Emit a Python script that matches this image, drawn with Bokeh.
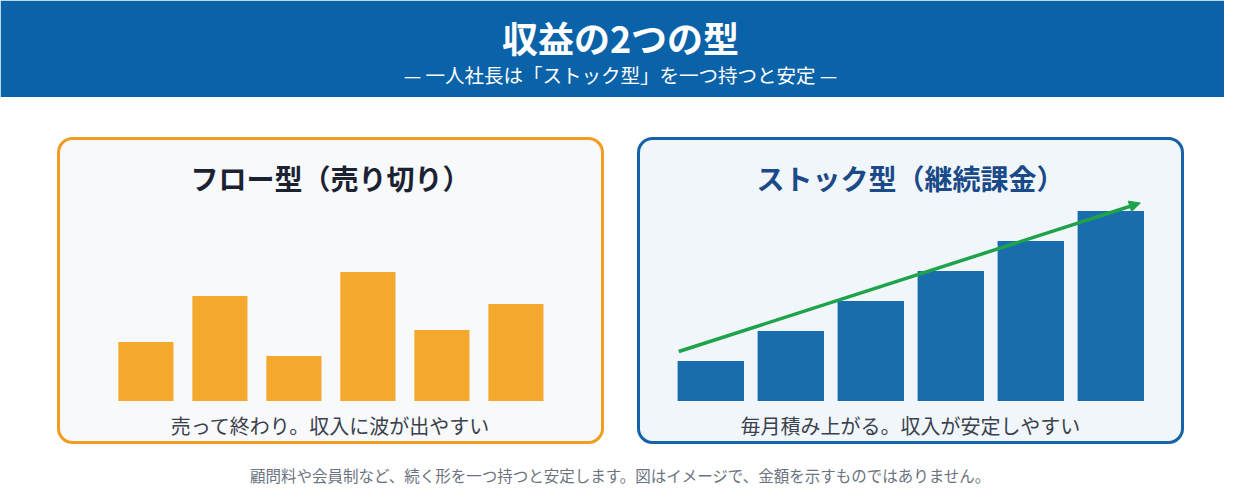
from bokeh.plotting import figure
from bokeh.models import Range1d, BoxAnnotation, Arrow, NormalHead, Label
from bokeh.embed import file_html
from bokeh.resources import INLINE

# data (image units, not real amounts)
months = [0, 1, 2, 3, 4, 5]
flow_sales = [5.9, 10.5, 4.5, 12.9, 7.1, 9.7]
stock_sales = [4, 7, 10, 13, 16, 19]

title = "収益の2つの型"
subtitle = "— 一人社長は「ストック型」を一つ持つと安定 —"
flow_title = "フロー型（売り切り）"
stock_title = "ストック型（継続課金）"
flow_caption = "売って終わり。収入に波が出やすい"
stock_caption = "毎月積み上がる。収入が安定しやすい"
footnote = "顧問料や会員制など、続く形を一つ持つと安定します。図はイメージで、金額を示すものではありません。"

JP = "Noto Sans CJK JP"
HEADER = "#0A62A9"
ORANGE = "#F4A82E"
BLUE = "#1A6DAD"
GREEN = "#1EA34B"

W, H = 1224, 484


def Y(py):
    # page pixel (from top) -> data y
    return 500 - py


def band(c0, step):
    # range so that index i sits at page x = c0 + step * i
    start = -c0 / step
    return Range1d(start, start + W / step)


p = figure(width=W, height=H, x_range=Range1d(0, W), y_range=Range1d(500 - H, 500),
           x_axis_location=None, y_axis_location=None, min_border=0,
           toolbar_location=None, output_backend="svg")
p.grid.visible = False
p.outline_line_color = None

p.extra_x_ranges = {"flow": band(145.4, 74), "stock": band(710.3, 80)}
# 10px per unit, baseline at page y 400.5
base = 400.5
p.extra_y_ranges = {"amount": Range1d(base / 10 - H / 10, base / 10)}

# header band
p.add_layout(BoxAnnotation(bottom=Y(96.5), fill_color=HEADER, fill_alpha=1,
                           line_color=None, level="underlay"))
p.add_layout(Label(x=620, y=Y(36.5), text=title, text_align="center", text_baseline="middle",
                   text_font=JP, text_font_size="36px", text_font_style="bold", text_color="white"))
p.add_layout(Label(x=620, y=Y(73.5), text=subtitle, text_align="center", text_baseline="middle",
                   text_font=JP, text_font_size="19.5px", text_color="white"))

# panels
p.add_layout(BoxAnnotation(left=58, right=602, top=Y(138), bottom=Y(442), border_radius=14,
                           fill_color="#F8F9FB", fill_alpha=1, line_color="#F29D1E",
                           line_alpha=1, line_width=3, level="underlay"))
p.add_layout(BoxAnnotation(left=638, right=1182, top=Y(138), bottom=Y(442), border_radius=14,
                           fill_color="#F1F6FB", fill_alpha=1, line_color="#1562A5",
                           line_alpha=1, line_width=3, level="underlay"))

p.add_layout(Label(x=330, y=Y(177), text=flow_title, text_align="center", text_baseline="middle",
                   text_font=JP, text_font_size="28px", text_font_style="bold", text_color="#1B2232"))
p.add_layout(Label(x=910, y=Y(177), text=stock_title, text_align="center", text_baseline="middle",
                   text_font=JP, text_font_size="28px", text_font_style="bold", text_color="#1B4A88"))

p.vbar(x=months, top=flow_sales, bottom=0, width=0.745, fill_color=ORANGE, line_color=None,
       x_range_name="flow", y_range_name="amount")
p.vbar(x=months, top=stock_sales, bottom=0, width=0.83, fill_color=BLUE, line_color=None,
       x_range_name="stock", y_range_name="amount")

# trend arrow over the stock bars
p.add_layout(Arrow(end=NormalHead(size=11, fill_color=GREEN, line_color=GREEN),
                   x_start=months[0] - 0.4, y_start=stock_sales[0] + 0.95,
                   x_end=months[-1] + 0.37, y_end=stock_sales[-1] + 0.8,
                   line_color=GREEN, line_width=3.5,
                   x_range_name="stock", y_range_name="amount"))

p.add_layout(Label(x=330, y=Y(425), text=flow_caption, text_align="center", text_baseline="middle",
                   text_font=JP, text_font_size="20px", text_color="#3A404C"))
p.add_layout(Label(x=910, y=Y(425), text=stock_caption, text_align="center", text_baseline="middle",
                   text_font=JP, text_font_size="20px", text_color="#3A404C"))

p.add_layout(Label(x=620, y=Y(474), text=footnote, text_align="center", text_baseline="middle",
                   text_font=JP, text_font_size="15.5px", text_color="#6B7280"))

open("out.html", "w").write(file_html(p, INLINE))
